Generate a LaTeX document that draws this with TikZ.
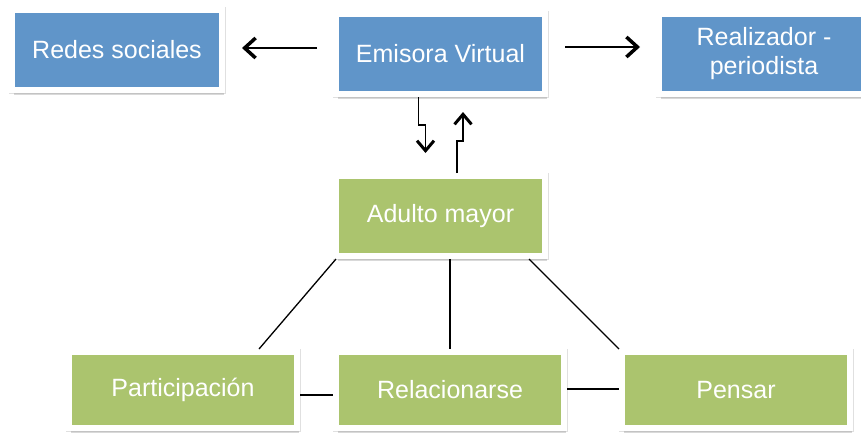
\documentclass[tikz,border=0pt]{standalone}
\usepackage{fontspec}
\setmainfont{Liberation Sans}
\usetikzlibrary{positioning,shadows,arrows.meta}
\definecolor{boxblue}{RGB}{96,149,201}
\definecolor{boxgreen}{RGB}{171,196,110}
\tikzstyle{frame} = [rectangle,
                    draw=white,
                    line width=6pt,
                    outer sep=3pt,
                    align=center,
                    text=white,
                    font=\fontsize{25}{29}\selectfont,
                    preaction={draw=black!12, line width=7pt},
                    drop shadow={opacity=.3, shadow xshift=1.5pt, shadow yshift=-5pt}]
\tikzstyle{bluebox} = [frame, fill=boxblue, minimum width=210pt, minimum height=80pt]
\tikzstyle{greenbox} = [frame, fill=boxgreen, minimum width=228pt, minimum height=76pt]
\tikzstyle{zig} = [-{Straight Barb[length=10pt,width=17pt,line width=3pt]},
                  line width=1.5pt]

\begin{document}
\begin{tikzpicture}[x=1pt, y=-1pt,
                    >={Straight Barb[length=11pt,width=20pt,line width=3.5pt]},
                    line width=1.3pt]
    \useasboundingbox (0,0) rectangle (861,432);
    \clip (0,0) rectangle (861,432);
    \node (emisora) at (440.5,54) [bluebox, minimum width=209pt] {Emisora Virtual};
    \node (redes) [left=108pt of emisora, yshift=4pt] [bluebox] {Redes sociales};
    \node (realiz) [right=108pt of emisora] [bluebox] {Realizador -\\periodista};
    \node (adulto) [below=76pt of emisora] [greenbox, minimum width=209pt, minimum height=80pt] {Adulto mayor};
    \node (relac) [below=90pt of adulto, xshift=9.5pt] [greenbox] {Relacionarse};
    \node (partic) [left=33pt of relac] [greenbox] {Participación};
    \node (pensar) [right=52pt of relac] [greenbox] {Pensar};
    \draw[->, line width=2pt] ([xshift=-16pt,yshift=6pt]emisora.west) -- ([xshift=17pt,yshift=2pt]redes.east);
    \draw[->, line width=2pt] ([xshift=17pt,yshift=7pt]emisora.east) -- ([xshift=-16pt,yshift=7pt]realiz.west);
    \draw[zig] ([xshift=-22pt]emisora.south) -- ++(0,28) -- ++(7,0) -- ++(0,28);
    \draw[zig] ([xshift=16.5pt]adulto.north) -- ++(0,-32) -- ++(6,0) -- ++(0,-29);
    \draw ([xshift=3pt]adulto.south west) -- ([xshift=76pt]partic.north);
    \draw (relac.north |- adulto.south) -- (relac.north);
    \draw ([xshift=-19pt]adulto.south east) -- (pensar.north west);
    \draw ([yshift=-5pt]partic.east) -- ([yshift=-5pt]relac.west);
    \draw ([yshift=1pt]relac.east) -- ([yshift=1pt]pensar.west);
  \end{tikzpicture}
\end{document}
